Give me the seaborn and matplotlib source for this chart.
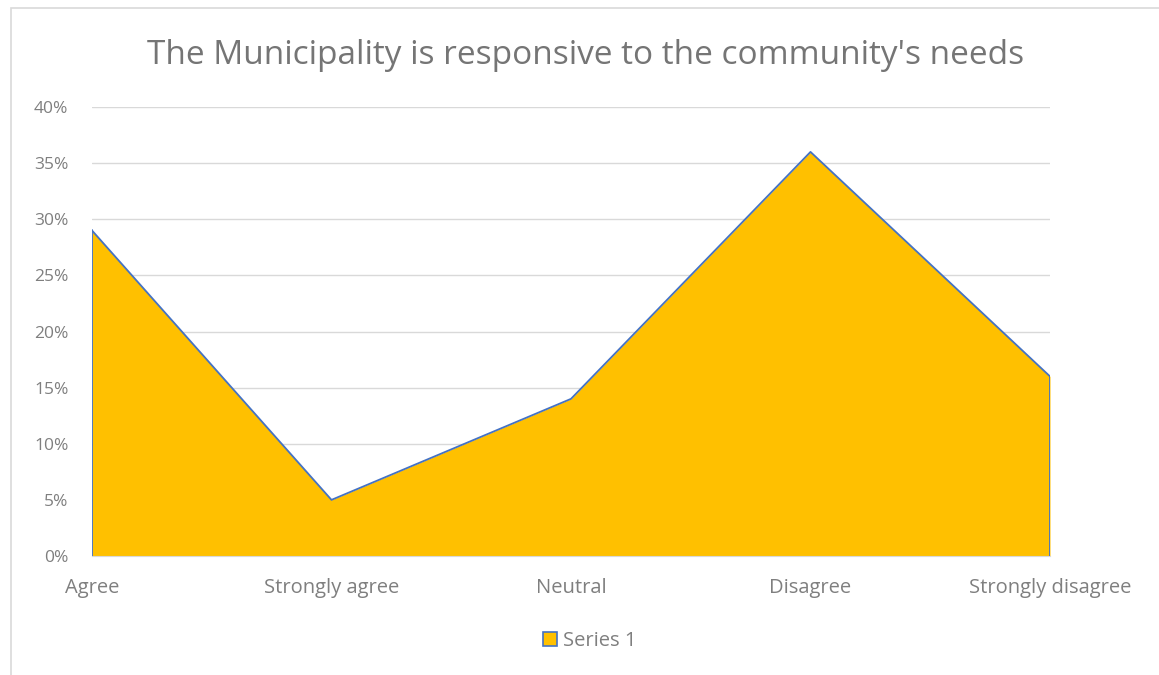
import pandas as pd
import numpy as np
import seaborn as sns
from matplotlib import pyplot as plt
from matplotlib.patches import Rectangle, Patch

# Chart data
categories = ['Agree', 'Strongly agree', 'Neutral', 'Disagree', 'Strongly disagree']
share = [0.29, 0.05, 0.14, 0.36, 0.16]
yticks = [0, 0.05, 0.10, 0.15, 0.20, 0.25, 0.30, 0.35, 0.40]
ytick_labels = ['0%', '5%', '10%', '15%', '20%', '25%', '30%', '35%', '40%']

df = pd.DataFrame({'answer': categories, 'share': share, 'pos': range(len(categories))})

sns.set_style('white')
plt.rcParams['font.family'] = ['Open Sans', 'DejaVu Sans']
text_gray = '#7f7f7f'

fig = plt.figure(figsize=(11.59, 6.75), dpi=100)
ax = fig.add_axes([92 / 1159, 1 - 556 / 675, (1050 - 92) / 1159, (556 - 107) / 675])

# Area fill + outline
ax.fill_between(df['pos'], df['share'], 0, color='#FFC000', zorder=2, linewidth=0)
sns.lineplot(data=df, x='pos', y='share', color='#4472C4', linewidth=1.3, ax=ax, zorder=3)
ax.plot([0, 0], [0, share[0]], color='#4472C4', linewidth=1.3, zorder=3)
ax.plot([4, 4], [0, share[-1]], color='#4472C4', linewidth=1.3, zorder=3)

ax.set_xlim(0, len(categories) - 1)
ax.set_ylim(0, 0.40)
ax.set_yticks(yticks)
ax.set_yticklabels(ytick_labels)
ax.set_xticks(df['pos'])
ax.set_xticklabels(categories)
ax.grid(axis='y', color='#d9d9d9', linewidth=1, zorder=0)
ax.set_axisbelow(True)
for s in ['top', 'right', 'left']:
    ax.spines[s].set_visible(False)
ax.spines['bottom'].set_color('#d9d9d9')
ax.tick_params(axis='y', length=0, pad=17, labelsize=12.5, labelcolor=text_gray)
ax.tick_params(axis='x', length=5, width=1, color='#d9d9d9', pad=11, labelsize=14.5, labelcolor=text_gray)
ax.set_xlabel('')
ax.set_ylabel('')

fig.text(0.505, 1 - 55 / 675, "The Municipality is responsive to the community's needs",
         ha='center', va='center', fontsize=24, color='#757575')

handles = [Patch(facecolor='#FFC000', edgecolor='#4472C4', linewidth=1.2, label='Series 1')]
fig.legend(handles=handles, loc='center', bbox_to_anchor=(590 / 1159, 1 - 641 / 675),
           frameon=False, fontsize=14.5, labelcolor=text_gray, handlelength=0.7, handleheight=0.7,
           handletextpad=0.3)

# Chart frame
fig.patches.append(Rectangle((11 / 1159, -0.1), 1.2, 1 - 8 / 675 + 0.1, transform=fig.transFigure,
                             fill=False, edgecolor='#d9d9d9', linewidth=1.2))

fig.savefig('out.png', dpi=100)
